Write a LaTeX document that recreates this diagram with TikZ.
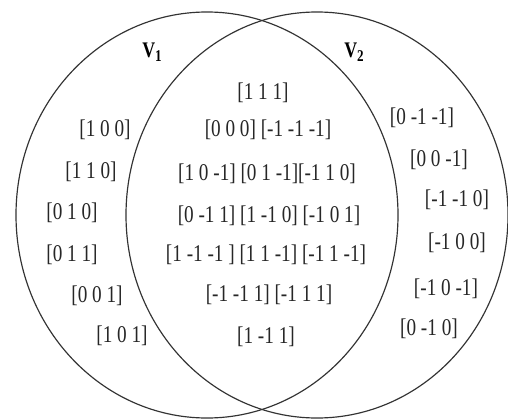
\documentclass[tikz,border=0pt]{standalone}
\usepackage{fontspec}
\setmainfont{Liberation Serif}[FakeStretch=0.8]
\usetikzlibrary{shapes.geometric}

\begin{document}
\begin{tikzpicture}[
    x=0.03cm, y=-0.03cm,
    setline/.style={
      ellipse,
      draw=black!80,
      line width=1pt,
      inner sep=0pt,
      minimum width=11.46cm,
      minimum height=12.18cm,
    },
    vec/.style={font=\fontsize{20.5}{22}\selectfont, inner sep=0pt, text=black!85},
    setname/.style={font=\fontsize{19}{20}\selectfont\bfseries, inner sep=0pt},
  ]
    \useasboundingbox (0,0) rectangle (508,419);

    % the two sets
    \node[setline] (left) at (207,215) {};
    \node[setline] (right) at (317,215) {};
    \node[setname] (v1) at (152,52) {V\raisebox{-0.35ex}{\fontsize{14}{15}\selectfont 1}};
    \node[setname] (v2) at (354,52) {V\raisebox{-0.35ex}{\fontsize{14}{15}\selectfont 2}};

    % only in V1
    \node[vec] (a1) at (105,130) {[1 0 0]};
    \node[vec] (a2) at (91,172) {[1 1 0]};
    \node[vec] (a3) at (72,213) {[0 1 0]};
    \node[vec] (a4) at (72,255) {[0 1 1]};
    \node[vec] (a5) at (97,296) {[0 0 1]};
    \node[vec] (a6) at (122,336) {[1 0 1]};

    % both
    \node[vec] (b1) at (263,93) {[1 1 1]};
    \node[vec] (b2) at (268,130) {[0 0 0] [-1 -1 -1]};
    \node[vec] (b3) at (267,174) {[1 0 -1] [0 1 -1][-1 1 0]};
    \node[vec] (b4) at (269,216) {[0 -1 1] [1 -1 0] [-1 0 1]};
    \node[vec] (b5) at (266,255) {[1 -1 -1 ] [1 1 -1] [-1 1 -1]};
    \node[vec] (b6) at (269,295) {[-1 -1 1] [-1 1 1]};
    \node[vec] (b7) at (266,337) {[1 -1 1]};

    % only in V2
    \node[vec] (c1) at (422,118) {[0 -1 -1]};
    \node[vec] (c2) at (439,160) {[0 0 -1]};
    \node[vec] (c3) at (457,200) {[-1 -1 0]};
    \node[vec] (c4) at (457,243) {[-1 0 0]};
    \node[vec] (c5) at (446,289) {[-1 0 -1]};
    \node[vec] (c6) at (429,329) {[0 -1 0]};
  \end{tikzpicture}
\end{document}
